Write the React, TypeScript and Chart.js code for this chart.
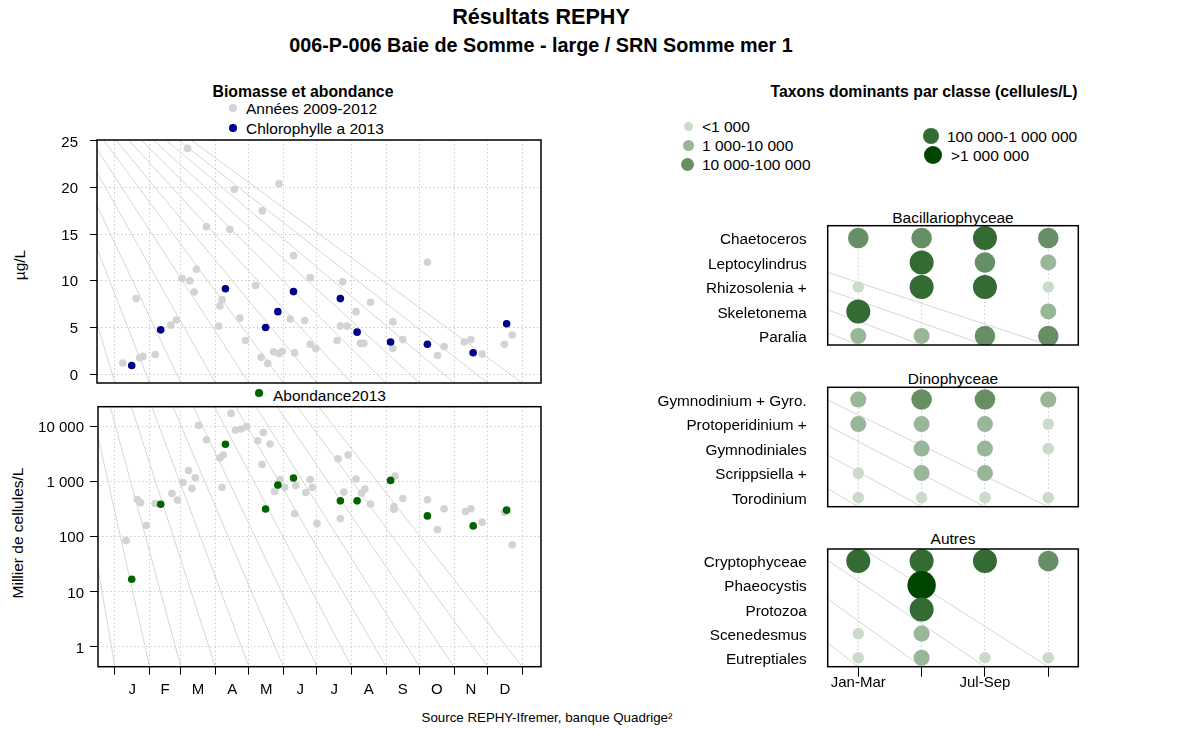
import React, { useEffect, useRef } from 'react';
import { Chart, registerables } from 'chart.js';
Chart.register(...registerables);

const FONT = '"Liberation Sans", Arial, Helvetica, sans-serif';
const GRID = '#cccccc';
const RAY = '#d6d6d6';

// ---- axes ----
const monthStarts = [0, 31, 59, 90, 120, 151, 181, 212, 243, 273, 304, 334, 365];
const monthLabels = ['J', 'F', 'M', 'A', 'M', 'J', 'J', 'A', 'S', 'O', 'N', 'D'];
const chlTicks = [0, 5, 10, 15, 20, 25];
const abTicks = [1, 10, 100, 1000, 10000];

// ---- 2013 series ----
const days2013 = [15, 41, 99, 135, 146, 160, 202, 217, 247, 280, 321, 351];
const chl2013 = [0.93, 4.75, 9.15, 5.0, 6.7, 8.85, 8.1, 4.5, 3.45, 3.2, 2.3, 5.4];
const ab2013 = [17, 390, 4800, 320, 870, 1170, 450, 450, 1060, 240, 158, 305];

// ---- 2009-2012 series ----
const chlHistDays = [7, 22, 25, 36, 19, 50, 55, 60, 67, 71, 73, 65, 82, 93, 94, 96, 103, 107, 112, 117, 126, 131, 132, 137, 142, 147, 147, 150, 157, 160, 161, 170, 175, 175, 180, 199, 202, 204, 208, 216, 220, 223, 229, 249, 249, 258, 280, 289, 295, 313, 319, 329, 349, 356];
const chlHistValues = [1.2, 1.75, 1.9, 2.1, 8.1, 5.25, 5.8, 10.25, 10.0, 8.8, 11.25, 24.2, 15.8, 5.15, 7.3, 8.0, 15.5, 19.8, 6.0, 3.6, 9.5, 1.8, 17.5, 1.15, 2.4, 2.2, 20.4, 2.45, 5.9, 12.7, 2.3, 5.75, 10.35, 3.2, 2.75, 3.6, 5.15, 9.9, 5.15, 6.7, 3.3, 3.3, 7.7, 5.6, 2.75, 3.7, 12.0, 2.0, 2.95, 3.45, 3.7, 2.15, 3.2, 4.2];
const abHistDays = [10, 20, 23, 28, 36, 51, 56, 61, 66, 69, 72, 75, 82, 94, 96, 97, 104, 108, 113, 118, 128, 132, 133, 139, 143, 148, 152, 161, 162, 171, 175, 177, 181, 200, 202, 205, 209, 216, 221, 224, 229, 250, 250, 251, 258, 280, 289, 295, 314, 319, 329, 349, 356];
const abHistValues = [86, 476, 415, 161, 403, 612, 465, 970, 1600, 758, 1183, 10570, 5800, 2700, 794, 3060, 17460, 8710, 9080, 10120, 5560, 2065, 7870, 4840, 667, 1087, 795, 262, 857, 640, 1100, 788, 175, 2620, 215, 650, 3060, 1118, 623, 737, 393, 356, 318, 1269, 498, 471, 136, 323, 288, 323, 185, 281, 72];

// ---- dominant taxa ----
const periods = ['Jan-Mar', 'Apr-Jun', 'Jul-Sep', 'Oct-Dec'];
const classLabels = ['<1 000', '1 000-10 000', '10 000-100 000', '100 000-1 000 000', '>1 000 000'];
const classColors = ['#cbdbcb', '#98b698', '#668f66', '#336b33', '#004600'];
const classRadii = [5.8, 8, 10.3, 12, 14.2];
const legendRadii = [4.5, 5.5, 6.5, 8, 9];

const bacilTaxa = ['Chaetoceros', 'Leptocylindrus', 'Rhizosolenia +', 'Skeletonema', 'Paralia'];
const bacilClasses = [[2, 2, 3, 2], [null, 3, 2, 1], [0, 3, 3, 0], [3, null, null, 1], [1, 1, 2, 2]];
const dinoTaxa = ['Gymnodinium + Gyro.', 'Protoperidinium +', 'Gymnodiniales', 'Scrippsiella +', 'Torodinium'];
const dinoClasses = [[1, 2, 2, 1], [1, 1, 1, 0], [null, 1, 1, 0], [0, 1, 1, null], [0, 0, 0, 0]];
const autresTaxa = ['Cryptophyceae', 'Phaeocystis', 'Protozoa', 'Scenedesmus', 'Eutreptiales'];
const autresClasses = [[3, 3, 3, 2], [null, 4, null, null], [null, 3, null, null], [0, 1, null, null], [0, 1, 0, 0]];

const fmtThousands = (v: number) => String(Math.round(v)).replace(/\B(?=(\d{3})+(?!\d))/g, ' ');

// fix an axis box size and cancel the label overflow padding
const fixW = (w: number) => (s: any) => {
  s.width = w;
  s.paddingTop = 0;
  s.paddingBottom = 0;
  s.paddingLeft = 0;
  s.paddingRight = 0;
};
const fixH = (h: number) => (s: any) => {
  s.height = h;
  s.paddingTop = 0;
  s.paddingBottom = 0;
  s.paddingLeft = 0;
  s.paddingRight = 0;
};

// ---- plugins ----
const framePlugin = {
  id: 'frame',
  afterDatasetsDraw(chart: any) {
    const { ctx, chartArea: a } = chart;
    ctx.save();
    ctx.strokeStyle = '#000';
    ctx.lineWidth = 1.5;
    ctx.strokeRect(a.left, a.top, a.right - a.left, a.bottom - a.top);
    ctx.restore();
  },
};

const raysPlugin = {
  id: 'rays',
  beforeDatasetsDraw(chart: any, _args: any, opts: any) {
    const { ctx, chartArea: a } = chart;
    const xs = (opts.values || []).map((v: number) => chart.scales.x.getPixelForValue(v));
    ctx.save();
    ctx.beginPath();
    ctx.rect(a.left, a.top, a.right - a.left, a.bottom - a.top);
    ctx.clip();
    ctx.strokeStyle = RAY;
    ctx.lineWidth = 1;
    for (const x of xs) {
      ctx.beginPath();
      ctx.moveTo(opts.ox, opts.oy);
      ctx.lineTo(x, a.bottom);
      ctx.stroke();
    }
    ctx.restore();
  },
};

const midValues = monthStarts.slice(0, -1).map((d, i) => (d + monthStarts[i + 1]) / 2);

function monthAxis(min: number, max: number, height: number, showLabels: boolean) {
  const isMid = (v: number) => midValues.indexOf(v) >= 0;
  return {
    type: 'linear',
    min,
    max,
    afterBuildTicks: (s: any) => {
      const vals = showLabels ? [...monthStarts, ...midValues].sort((a, b) => a - b) : monthStarts;
      s.ticks = vals.map((v) => ({ value: v }));
    },
    afterFit: fixH(height),
    grid: {
      color: (c: any) => (c.tick && isMid(c.tick.value) ? 'rgba(0,0,0,0)' : GRID),
      lineWidth: 1,
      drawTicks: showLabels,
      tickLength: 8,
      tickWidth: 1,
      tickColor: (c: any) => (c.tick && isMid(c.tick.value) ? 'rgba(0,0,0,0)' : '#000'),
    },
    border: { display: false, dash: [1.5, 2.5] },
    ticks: {
      display: showLabels,
      autoSkip: false,
      maxRotation: 0,
      minRotation: 0,
      padding: 6,
      color: '#000',
      font: { family: FONT, size: 15 },
      callback: (v: number) => {
        const i = midValues.indexOf(v);
        return i >= 0 ? monthLabels[i] : '';
      },
    },
  };
}

function pts(xs: number[], ys: number[]) {
  return xs.map((x, i) => ({ x, y: ys[i] }));
}

function chlConfig(left: number, top: number) {
  return {
    type: 'scatter',
    data: {
      datasets: [
        { label: 'Chlorophylle a 2013', data: pts(days2013, chl2013), backgroundColor: '#00008b', pointRadius: 3.8, borderWidth: 0 },
        { label: 'Années 2009-2012', data: pts(chlHistDays, chlHistValues), backgroundColor: '#d3d3d3', pointRadius: 3.8, borderWidth: 0 },
      ],
    },
    options: {
      animation: false,
      responsive: false,
      events: [],
      layout: { autoPadding: false, padding: { top: 10, right: 19, left: 0, bottom: 0 } },
      plugins: { legend: { display: false }, tooltip: { enabled: false }, rays: { values: monthStarts, ox: -left, oy: -top } },
      scales: {
        x: monthAxis(-16.1, 381.8, 12, false),
        y: {
          type: 'linear',
          min: -0.95,
          max: 25.1,
          afterBuildTicks: (s: any) => {
            s.ticks = chlTicks.map((v) => ({ value: v }));
          },
          afterFit: fixW(97),
          grid: { color: GRID, drawTicks: true, tickLength: 7, tickColor: '#000', tickWidth: 1 },
          border: { display: false, dash: [1.5, 2.5] },
          ticks: { color: '#000', font: { family: FONT, size: 15 }, padding: 12, labelOffset: 1.5, autoSkip: false },
        },
      },
    },
    plugins: [raysPlugin, framePlugin],
  };
}

function abConfig(left: number, top: number) {
  return {
    type: 'scatter',
    data: {
      datasets: [
        { label: 'Abondance2013', data: pts(days2013, ab2013), backgroundColor: '#006400', pointRadius: 3.8, borderWidth: 0 },
        { label: 'Années 2009-2012', data: pts(abHistDays, abHistValues), backgroundColor: '#d3d3d3', pointRadius: 3.8, borderWidth: 0 },
      ],
    },
    options: {
      animation: false,
      responsive: false,
      events: [],
      layout: { autoPadding: false, padding: { top: 8.7, right: 19, left: 0, bottom: 0 } },
      plugins: { legend: { display: false }, tooltip: { enabled: false }, rays: { values: monthStarts, ox: -left, oy: -top } },
      scales: {
        x: monthAxis(-15.2, 381.8, 41.3, true),
        y: {
          type: 'logarithmic',
          min: 0.438,
          max: 23100,
          afterBuildTicks: (s: any) => {
            s.ticks = abTicks.map((v) => ({ value: v }));
          },
          afterFit: fixW(98),
          grid: { color: GRID, drawTicks: true, tickLength: 8, tickColor: '#000', tickWidth: 1 },
          border: { display: false, dash: [1.5, 2.5] },
          ticks: { color: '#000', font: { family: FONT, size: 15 }, padding: 6, labelOffset: 1.5, autoSkip: false, callback: (v: number) => fmtThousands(v) },
        },
      },
    },
    plugins: [raysPlugin, framePlugin],
  };
}

function bubbleConfig(left: number, top: number, taxa: string[], classes: (number | null)[][], showX: boolean, xHeight: number, padTop: number) {
  const data: any[] = [];
  classes.forEach((row, ri) =>
    row.forEach((c, ci) => {
      if (c !== null) data.push({ x: ci + 1, y: ri + 1, r: classRadii[c], c });
    })
  );
  return {
    type: 'bubble',
    data: {
      datasets: [
        {
          data,
          backgroundColor: (ctx: any) => (ctx.raw ? classColors[ctx.raw.c] : '#000'),
          borderWidth: 0,
          hoverRadius: 0,
        },
      ],
    },
    options: {
      animation: false,
      responsive: false,
      events: [],
      layout: { autoPadding: false, padding: { top: padTop, right: 21.7, left: 0, bottom: 0 } },
      plugins: { legend: { display: false }, tooltip: { enabled: false }, rays: { values: [1, 2, 3, 4], ox: -left, oy: -top } },
      scales: {
        x: {
          type: 'linear',
          min: 0.517,
          max: 4.474,
          afterBuildTicks: (s: any) => {
            s.ticks = [1, 2, 3, 4].map((v) => ({ value: v }));
          },
          afterFit: fixH(xHeight),
          grid: { color: GRID, drawTicks: showX, tickLength: 10, tickColor: '#000', tickWidth: 1 },
          border: { display: false, dash: [1.5, 2.5] },
          ticks: {
            display: showX,
            autoSkip: false,
            maxRotation: 0,
            minRotation: 0,
            padding: -1,
            color: '#000',
            font: { family: FONT, size: 15, lineHeight: 1 },
            callback: (v: number) => (v % 2 === 1 ? periods[v - 1] : ''),
          },
        },
        y: {
          type: 'linear',
          reverse: true,
          min: 0.5,
          max: 5.37,
          afterBuildTicks: (s: any) => {
            s.ticks = [1, 2, 3, 4, 5].map((v) => ({ value: v }));
          },
          afterFit: fixW(227.7),
          grid: { display: false, drawTicks: false },
          border: { display: false },
          ticks: { color: '#000', font: { family: FONT, size: 15.3 }, padding: 21, labelOffset: 2, autoSkip: false, callback: (v: number) => taxa[v - 1] },
        },
      },
    },
    plugins: [raysPlugin, framePlugin],
  };
}

function ChartCanvas({ left, top, width, height, make }: { left: number; top: number; width: number; height: number; make: (l: number, t: number) => any }) {
  const ref = useRef<HTMLCanvasElement>(null);
  useEffect(() => {
    const chart = new Chart(ref.current as HTMLCanvasElement, make(left, top));
    return () => chart.destroy();
  }, []);
  return <canvas ref={ref} width={width} height={height} style={{ position: 'absolute', left, top, width, height }} />;
}

function Txt({ x, y, children, size = 15.5, bold = false, anchor = 'middle', rotate = 0 }: any) {
  const tx = anchor === 'middle' ? '-50%' : anchor === 'end' ? '-100%' : '0';
  return (
    <div
      style={{
        position: 'absolute',
        left: x,
        top: y,
        transform: `translate(${tx}, -50%)${rotate ? ` rotate(${rotate}deg)` : ''}`,
        fontFamily: FONT,
        fontSize: size,
        fontWeight: bold ? 700 : 400,
        lineHeight: 1,
        whiteSpace: 'nowrap',
        color: '#000',
      }}
    >
      {children}
    </div>
  );
}

function Dot({ x, y, r, color }: any) {
  return <div style={{ position: 'absolute', left: x - r, top: y - r, width: 2 * r, height: 2 * r, borderRadius: '50%', background: color }} />;
}

export default function App() {
  const legendPos = [
    { mx: 688, my: 126, tx: 702, ty: 127 },
    { mx: 688, my: 145, tx: 702, ty: 146 },
    { mx: 687, my: 164, tx: 702, ty: 165 },
    { mx: 931, my: 136, tx: 947, ty: 137 },
    { mx: 933, my: 155, tx: 951, ty: 156 },
  ];
  return (
    <div style={{ position: 'absolute', left: 0, top: 0, width: 1184, height: 729, background: '#fff', overflow: 'hidden' }}>
      <Txt x={541} y={17} size={21.6} bold>Résultats REPHY</Txt>
      <Txt x={541} y={46} size={19.8} bold>006-P-006 Baie de Somme - large / SRN Somme mer 1</Txt>

      <Txt x={303} y={92} size={15.8} bold>Biomasse et abondance</Txt>
      <Dot x={233} y={108} r={3.8} color="#d3d3d3" />
      <Txt x={246} y={109} anchor="start">Années 2009-2012</Txt>
      <Dot x={233} y={128} r={3.8} color="#00008b" />
      <Txt x={246} y={129} anchor="start">Chlorophylle a 2013</Txt>

      <Txt x={20} y={265} rotate={-90}>µg/L</Txt>
      <Txt x={18} y={533} rotate={-90}>Millier de cellules/L</Txt>

      <Dot x={259} y={393} r={3.8} color="#006400" />
      <Txt x={273} y={396} anchor="start">Abondance2013</Txt>

      <ChartCanvas left={0} top={130} width={560} height={265} make={chlConfig} />
      <ChartCanvas left={0} top={398} width={560} height={310} make={abConfig} />

      <Txt x={924} y={92} size={15.8} bold>Taxons dominants par classe (cellules/L)</Txt>
      {classLabels.map((lab, i) => (
        <React.Fragment key={lab}>
          <Dot x={legendPos[i].mx} y={legendPos[i].my} r={legendRadii[i]} color={classColors[i]} />
          <Txt x={legendPos[i].tx} y={legendPos[i].ty} anchor="start">{lab}</Txt>
        </React.Fragment>
      ))}

      <Txt x={953} y={217.5}>Bacillariophyceae</Txt>
      <Txt x={953} y={378.5}>Dinophyceae</Txt>
      <Txt x={953} y={539}>Autres</Txt>

      <ChartCanvas left={600} top={215} width={500} height={140} make={(l, t) => bubbleConfig(l, t, bacilTaxa, bacilClasses, false, 10, 10.7)} />
      <ChartCanvas left={600} top={377} width={500} height={140} make={(l, t) => bubbleConfig(l, t, dinoTaxa, dinoClasses, false, 10.3, 10.3)} />
      <ChartCanvas left={600} top={539} width={500} height={170} make={(l, t) => bubbleConfig(l, t, autresTaxa, autresClasses, true, 42.3, 10)} />

      <Txt x={547} y={718} size={13.3}>Source REPHY-Ifremer, banque Quadrige²</Txt>
    </div>
  );
}
